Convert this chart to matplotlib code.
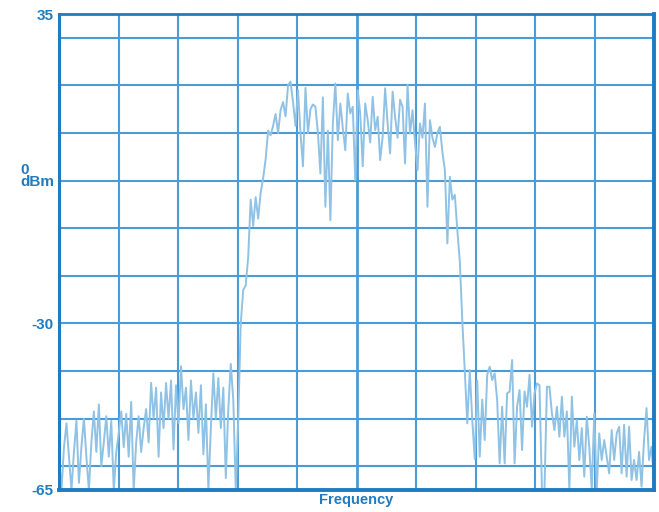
import numpy as np
import matplotlib
matplotlib.use("Agg")
import matplotlib.pyplot as plt

plt.rcParams['font.family'] = ['Liberation Sans', 'DejaVu Sans']

# Spectrum trace (dBm), evenly spaced samples across the frequency span
level_left_floor = [
    -58, -65, -56, -51, -58, -65, -57, -50.5, -63.5, -56,
    -50, -58, -65, -55, -48.5, -57, -47, -60, -55, -49.5,
    -58, -50.5, -65, -57, -53, -48.5, -56, -49, -58, -46.5,
    -65, -55, -49.5, -57, -52, -48, -55, -42.5, -50, -43.5,
    -58, -44.5, -52, -42.5, -50, -42, -56.5, -43, -51, -39,
    -48, -43.5, -54.5, -42, -50, -44.5, -53, -43, -57.5, -47,
    -65, -52, -40.5, -50, -41.5, -52, -43.5, -62.5, -48, -38.5,
    -46, -65, -50,
]
level_band = [
    -30, -23, -22, -16, -4, -9.5, -3.5, -8, -2.5, 0.5,
    4.5, 10.5, 9.5, 11.5, 14, 10, 14.8, 16.5, 13.5, 20,
    20.8, 16.5, 11.5, 19, 10, 3, 19.5, 10, 15, 16,
    15.5, 10, 1.5, 17.5, -5.5, 10.5, -8.3, 12, 20.4, 8.5,
    16.2, 11, 6.4, 18.3, 14.1, 15.5, 0.1, 19, 14, 3,
    16.2, 12.7, 8, 17.6, 10.6, 13.4, 4.3, 9.2, 19.4, 12,
    5.7, 18.7, 13.4, 9, 17, 15.5, 3.6, 20.1, 9.9, 14.8,
    8, 2.2, 12, 9, 16.2, -5.5, 12.7, 9, 7.1, 10,
    11.3, 6, 2.2, -13.2, 0.8, -4, -3, -10.4, -17, -29.5,
]
level_right_floor = [
    -40, -51, -39.8, -50.3, -58.5, -42, -58, -46, -54.5, -40.8,
    -39.1, -41.9, -40.5, -46.1, -59.4, -47.5, -59.4, -44.7, -44.3, -37.7,
    -59.4, -47.5, -44, -56.6, -44.3, -47.5, -40.8, -51.7, -44.7, -42.6,
    -43, -65, -65, -43.3, -43.3, -48.9, -52.4, -47.5, -53.8, -45.4,
    -53.8, -48.5, -65, -45.4, -55.9, -50.3, -58.7, -52, -62.2, -49.6,
    -56, -65, -48.9, -65, -53.1, -58.7, -54.5, -58, -61.5, -52.4,
    -58.7, -53.1, -51.7, -61.5, -51.3, -62.2, -51.7, -62.9, -58.7, -62.9,
    -57, -64.3, -54.5, -47.8, -58.7, -55.9, -62.9,
]
level = np.array(level_left_floor + level_band + level_right_floor)
freq = np.linspace(0, 10, len(level))   # frequency in screen divisions

y_ticks = [35, -30, -65]
y_tick_labels = ['35', '-30', '-65']
x_label = 'Frequency'

blue_text = '#1f7cc3'
grid_col = '#4b9bd6'
frame_col = '#1f7cc3'
trace_col = '#8fc2e4'

fig = plt.figure(figsize=(6.59, 5.12), dpi=100)
ax = fig.add_axes([59/659, 22/512, 595/659, 476/512])

ax.set_xlim(0, 10)
ax.set_ylim(-65, 35)

for xv in range(1, 10):
    ax.axvline(xv, color=grid_col, lw=2.0 if xv == 5 else 1.5, zorder=1)
for yv in range(-60, 35, 10):
    ax.axhline(yv, color=grid_col, lw=1.5, zorder=1)

ax.plot(freq, level, color=trace_col, lw=1.4, zorder=3)

for side, lw in [('left', 2.2), ('top', 2.0), ('right', 2.8), ('bottom', 2.8)]:
    ax.spines[side].set_color(frame_col)
    ax.spines[side].set_linewidth(lw)
    ax.spines[side].set_zorder(4)

ax.set_xticks([])
ax.set_yticks(y_ticks)
ax.set_yticklabels(y_tick_labels, fontsize=11, fontweight='bold', color=blue_text)
ax.tick_params(axis='y', length=0, pad=4)

ax.text(-0.007, 1.0, '0\ndBm', transform=ax.get_yaxis_transform(), ha='right', va='center',
        multialignment='left', fontsize=11, fontweight='bold', color=blue_text, linespacing=0.85)

ax.set_xlabel(x_label, fontsize=10.5, fontweight='bold', color=blue_text, labelpad=2)

fig.savefig('out.png', dpi=100, facecolor='white')
